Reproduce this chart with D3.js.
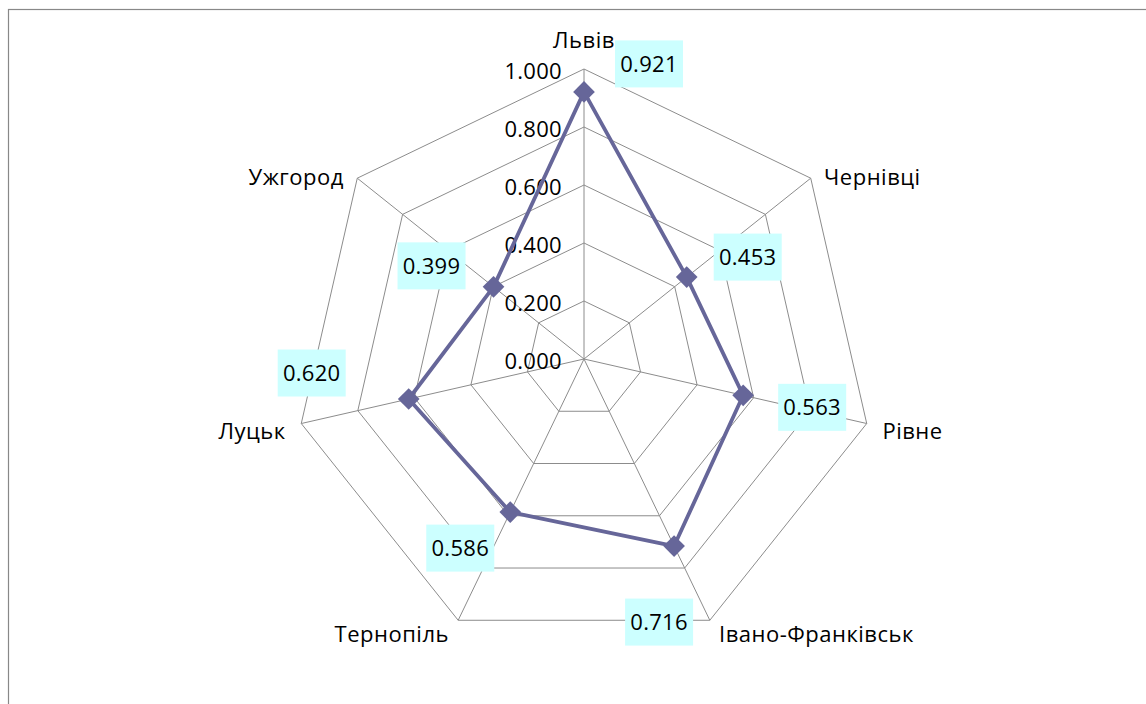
<!DOCTYPE html>
<html><head><meta charset="utf-8">
<script src="https://cdn.jsdelivr.net/npm/d3@7"></script>
<style>
html,body{margin:0;padding:0;background:#fff;}
svg{display:block;font-family:"Open Sans",sans-serif;}
</style></head>
<body>
<svg id="chart" width="1146" height="704"></svg>
<script>
const categories = ["Львів","Чернівці","Рівне","Івано-Франківськ","Тернопіль","Луцьк","Ужгород"];
const values = [0.921,0.453,0.563,0.716,0.586,0.620,0.399];
const tickValues = [0,0.2,0.4,0.6,0.8,1.0];
// layout-only offsets for the manually placed data labels (pixels from the point)
const labelOffsets = [[65,-28],[61,-20],[69,12],[-15,76],[-50,36],[-97,-26],[-62,-21]];

const svg = d3.select("#chart");
const cx = 584, cy = 359, R = 290;
const fs = 22;
svg.append("rect").attr("x",8.5).attr("y",9.5).attr("width",1300).attr("height",900)
  .attr("fill","none").attr("stroke","#888").attr("stroke-width",1.2);

const r = d3.scaleLinear().domain([0,1]).range([0,R]);
const n = categories.length;
const ang = i => i*2*Math.PI/n;
const pt = (i,v) => [cx + r(v)*Math.sin(ang(i)), cy - r(v)*Math.cos(ang(i))];

const g = svg.append("g");
// rings
tickValues.forEach(t=>{
  if(t===0) return;
  g.append("polygon").attr("points", d3.range(n).map(i=>pt(i,t).join(",")).join(" "))
   .attr("fill","none").attr("stroke","#8c8c8c").attr("stroke-width",1);
});
// spokes
d3.range(n).forEach(i=>{
  const p = pt(i,1);
  g.append("line").attr("x1",cx).attr("y1",cy).attr("x2",p[0]).attr("y2",p[1])
   .attr("stroke","#8c8c8c").attr("stroke-width",1);
});
// tick labels
g.selectAll("text.tick").data(tickValues).join("text").attr("class","tick")
 .attr("x",562).attr("y",d=>cy - r(d) + 2).attr("dy","0.36em")
 .attr("text-anchor","end").attr("font-size",fs).attr("fill","#000")
 .attr("letter-spacing",0.3)
 .text(d=>d3.format(".3f")(d));

// category labels
categories.forEach((c,i)=>{
  const a = ang(i), s = Math.sin(a), co = -Math.cos(a);
  const v = pt(i,1);
  let x, y, anchor;
  if (Math.abs(s) < 0.1) { x = v[0]; y = v[1]-29; anchor="middle"; }
  else {
    x = v[0] + s*12 + Math.sign(s)*4;
    y = v[1] + co*10 + 5;
    anchor = s>0 ? "start" : "end";
  }
  g.append("text").attr("x",x).attr("y",y).attr("dy","0.36em")
   .attr("text-anchor",anchor).attr("font-size",fs).attr("fill","#000")
   .attr("letter-spacing",0.5).text(c);
});

// series line
const line = d3.line().curve(d3.curveLinearClosed);
const pts = values.map((v,i)=>pt(i,v));
g.append("path").attr("d", line(pts)).attr("fill","none")
 .attr("stroke","#666699").attr("stroke-width",3.8).attr("stroke-linejoin","round");
// markers
g.selectAll("path.mk").data(pts).join("path").attr("class","mk")
 .attr("d", d3.symbol(d3.symbolDiamond2 || d3.symbolDiamond, 300))
 .attr("transform",d=>`translate(${d[0]},${d[1]})`)
 .attr("fill","#666699");

// data labels
values.forEach((v,i)=>{
  const p = pts[i], o = labelOffsets[i];
  const bx = p[0]+o[0], by = p[1]+o[1];
  g.append("rect").attr("x",bx-34).attr("y",by-23.5).attr("width",68).attr("height",47)
   .attr("fill","#ccffff");
  g.append("text").attr("x",bx).attr("y",by).attr("dy","0.36em").attr("text-anchor","middle")
   .attr("font-size",fs).attr("fill","#000").attr("letter-spacing",0.3).text(d3.format(".3f")(v));
});
</script>
</body></html>
